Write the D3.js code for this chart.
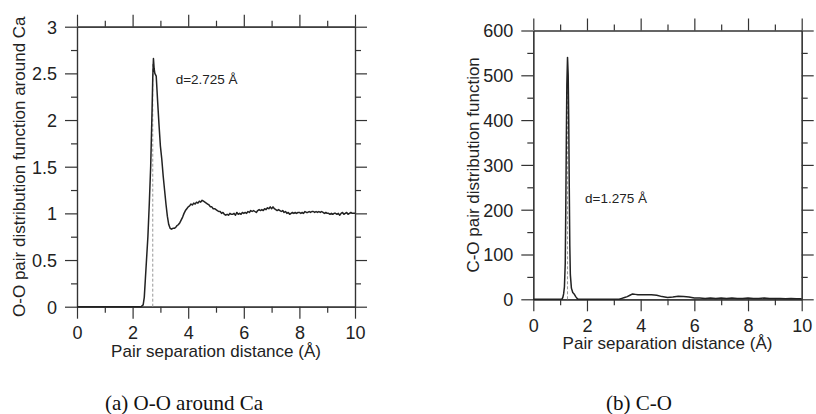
<!DOCTYPE html>
<html>
<head>
<meta charset="utf-8">
<script src="https://cdn.jsdelivr.net/npm/d3@7"></script>
<style>
  body { margin: 0; background: #fff; }
  svg { display: block; }
  .axis path, .axis line { stroke: #333; stroke-width: 1.2; }
  .axis text { font-family: "Liberation Sans", Arial, Helvetica, sans-serif; font-size: 18px; fill: #222; }
  .lbl { font-family: "Liberation Sans", Arial, Helvetica, sans-serif; fill: #222; }
  .cap { font-family: "Liberation Serif", "Times New Roman", serif; font-size: 21px; fill: #111; }
</style>
</head>
<body>
<div id="chart"></div>
<script>
// O-O pair distribution around Ca
var ooR = [0, 2.3, 2.38, 2.42, 2.46, 2.5, 2.55, 2.6, 2.65, 2.7, 2.725, 2.75, 2.775, 2.8, 2.85, 2.9, 2.95,
  3.0, 3.05, 3.1, 3.15, 3.2, 3.25, 3.3, 3.35, 3.4, 3.45, 3.5, 3.55, 3.6, 3.65, 3.7, 3.75, 3.8, 3.85, 3.9, 3.95,
  4.0, 4.05, 4.1, 4.15, 4.2, 4.25, 4.3, 4.35, 4.4, 4.45, 4.5, 4.55, 4.6, 4.65, 4.7, 4.75, 4.8, 4.85, 4.9, 4.95,
  5.0, 5.05, 5.1, 5.15, 5.2, 5.25, 5.3, 5.35, 5.4, 5.45, 5.5, 5.55, 5.6, 5.65, 5.7, 5.75, 5.8, 5.85, 5.9, 5.95,
  6.0, 6.05, 6.1, 6.15, 6.2, 6.25, 6.3, 6.35, 6.4, 6.45, 6.5, 6.55, 6.6, 6.65, 6.7, 6.75, 6.8, 6.85, 6.9, 6.95,
  7.0, 7.05, 7.1, 7.15, 7.2, 7.25, 7.3, 7.35, 7.4, 7.45, 7.5, 7.55, 7.6, 7.65, 7.7, 7.75, 7.8, 7.85, 7.9, 7.95,
  8.0, 8.05, 8.1, 8.15, 8.2, 8.25, 8.3, 8.35, 8.4, 8.45, 8.5, 8.55, 8.6, 8.65, 8.7, 8.75, 8.8, 8.85, 8.9, 8.95,
  9.0, 9.05, 9.1, 9.15, 9.2, 9.25, 9.3, 9.35, 9.4, 9.45, 9.5, 9.55, 9.6, 9.65, 9.7, 9.75, 9.8, 9.85, 9.9, 9.95, 10.0];
var ooG = [0, 0, 0.02, 0.1, 0.3, 0.5, 0.75, 1.1, 1.5, 2.1, 2.45, 2.66, 2.55, 2.5, 2.47, 2.2, 1.95,
  1.72, 1.58, 1.4, 1.25, 1.1, 0.97, 0.88, 0.84, 0.83, 0.84, 0.84, 0.85, 0.87, 0.88, 0.9, 0.93, 0.96, 1.0, 1.03, 1.05,
  1.07, 1.08, 1.10, 1.09, 1.11, 1.10, 1.12, 1.11, 1.13, 1.12, 1.14, 1.13, 1.12, 1.11, 1.10, 1.09, 1.07, 1.07, 1.05, 1.05,
  1.04, 1.03, 1.02, 1.02, 1.00, 1.01, 0.99, 0.98, 0.99, 0.98, 1.00, 0.99, 0.99, 1.00, 0.98, 1.01, 0.99, 1.00, 0.99, 1.01,
  1.00, 1.01, 1.00, 1.02, 1.01, 1.03, 1.02, 1.03, 1.02, 1.01, 1.03, 1.04, 1.03, 1.04, 1.03, 1.05, 1.04, 1.06, 1.05, 1.07,
  1.05, 1.07, 1.05, 1.04, 1.03, 1.04, 1.03, 1.02, 1.03, 1.01, 1.02, 1.00, 1.01, 0.99, 1.00, 1.01, 1.00, 1.01, 1.00, 1.01,
  1.01, 1.00, 1.01, 1.00, 1.02, 1.01, 1.01, 1.02, 1.01, 1.02, 1.02, 1.01, 1.02, 1.01, 1.02, 1.01, 1.02, 1.01, 1.00, 1.01,
  1.00, 1.00, 0.99, 1.00, 0.99, 1.00, 1.00, 0.99, 1.00, 0.98, 1.00, 1.01, 0.99, 1.00, 1.01, 0.99, 1.00, 1.01, 1.00, 1.00, 1.00];

// C-O pair distribution
var coR = [0, 1.06, 1.1, 1.13, 1.16, 1.19, 1.21, 1.23, 1.25, 1.275, 1.3, 1.32, 1.34, 1.36, 1.38, 1.42, 1.47, 1.52,
  1.58, 1.63, 1.68, 3.2, 3.3, 3.4, 3.5, 3.6, 3.7, 3.8, 3.9, 4.0, 4.2, 4.4, 4.6, 4.8, 5.0, 5.2, 5.4, 5.6, 5.8,
  6.0, 6.2, 6.4, 6.6, 6.8, 7.0, 7.2, 7.4, 7.6, 7.8, 8.0, 8.2, 8.4, 8.6, 8.8, 9.0, 9.2, 9.4, 9.6, 9.8, 10.0];
var coG = [0, 0, 4, 12, 28, 80, 200, 350, 480, 540, 500, 400, 250, 120, 55, 25, 15, 12,
  6, 2, 0, 0, 2, 4, 6, 9, 12, 11, 10, 10, 10, 10, 9, 6, 4, 5, 7, 6, 5,
  3, 3, 2, 3, 2, 3, 2, 3, 2, 2, 3, 2, 2, 3, 2, 2, 2, 1, 2, 1, 1];

var xMajor = [0, 2, 4, 6, 8, 10], xMinor = [1, 3, 5, 7, 9];
var ooYMajor = [0, 0.5, 1, 1.5, 2, 2.5, 3], ooYMinor = [0.25, 0.75, 1.25, 1.75, 2.25, 2.75];
var coYMajor = [0, 100, 200, 300, 400, 500, 600], coYMinor = [50, 150, 250, 350, 450, 550];

var svg = d3.select("#chart").append("svg")
  .attr("width", 816)
  .attr("height", 414);

function drawPanel(p) {
  var x = d3.scaleLinear().domain([0, 10]).range([p.left, p.right]);
  var y = d3.scaleLinear().domain(p.yDomain).range([p.bottom, p.top]);
  var g = svg.append("g");

  function addAxis(gen, tr, vals, size, labels) {
    var ax = gen.tickValues(vals).tickSizeInner(size).tickSizeOuter(0).tickPadding(p.pad);
    if (!labels) ax.tickFormat("");
    g.append("g").attr("class", "axis").attr("transform", tr).call(ax);
  }
  var fmt = function(d) { return d; };
  addAxis(d3.axisBottom(x).tickFormat(fmt), "translate(0," + p.bottom + ")", xMajor, 12, true);
  addAxis(d3.axisBottom(x), "translate(0," + p.bottom + ")", xMinor, 6, false);
  addAxis(d3.axisTop(x), "translate(0," + p.top + ")", xMajor, 12, false);
  addAxis(d3.axisTop(x), "translate(0," + p.top + ")", xMinor, 6, false);
  addAxis(d3.axisLeft(y).tickFormat(fmt), "translate(" + p.left + ",0)", p.yMajor, 12, true);
  addAxis(d3.axisLeft(y), "translate(" + p.left + ",0)", p.yMinor, 6, false);
  addAxis(d3.axisRight(y), "translate(" + p.right + ",0)", p.yMajor, 12, false);
  addAxis(d3.axisRight(y), "translate(" + p.right + ",0)", p.yMinor, 6, false);
  g.selectAll(".axis .tick text").attr("dy", null);
  g.selectAll(".axis .tick text").filter(function() { return this.parentNode.parentNode.getAttribute("transform").indexOf("translate(0,") === 0; })
    .attr("dy", "0.71em");
  g.selectAll(".axis .tick text").filter(function() { return this.parentNode.parentNode.getAttribute("transform").indexOf("translate(0,") !== 0; })
    .attr("dy", "0.35em");

  // peak marker
  g.append("line")
    .attr("x1", x(p.peakR)).attr("x2", x(p.peakR))
    .attr("y1", y(0)).attr("y2", y(p.peakG))
    .attr("stroke", "#999").attr("stroke-width", 1).attr("stroke-dasharray", "3,2");

  var line = d3.line()
    .x(function(d, i) { return x(p.r[i]); })
    .y(function(d) { return y(d); });
  g.append("path")
    .datum(p.gVals)
    .attr("fill", "none")
    .attr("stroke", "#222")
    .attr("stroke-width", 1.5)
    .attr("stroke-linejoin", "round")
    .attr("d", line);

  g.append("text").attr("class", "lbl")
    .attr("x", x(p.noteX)).attr("y", y(p.noteY))
    .style("font-size", "13.5px")
    .text(p.note);

  g.append("text").attr("class", "lbl")
    .attr("x", (p.left + p.right) / 2).attr("y", p.bottom + 50)
    .attr("text-anchor", "middle")
    .style("font-size", "17px")
    .text("Pair separation distance (Å)");

  g.append("text").attr("class", "lbl")
    .attr("transform", "translate(" + p.yLabelX + "," + ((p.top + p.bottom) / 2) + ") rotate(-90)")
    .attr("text-anchor", "middle")
    .style("font-size", "17px")
    .text(p.yLabel);

  g.append("text").attr("class", "cap")
    .attr("x", p.capX).attr("y", 410)
    .attr("text-anchor", "middle")
    .text(p.caption);
}

drawPanel({
  left: 77, right: 355, top: 26.7, bottom: 306.7, pad: 8,
  yDomain: [0, 3], yMajor: ooYMajor, yMinor: ooYMinor,
  r: ooR, gVals: ooG, peakR: 2.725, peakG: 2.6,
  note: "d=2.725 Å", noteX: 3.55, noteY: 2.39,
  yLabel: "O-O pair distribution function around Ca", yLabelX: 25,
  caption: "(a) O-O around Ca", capX: 184
});

drawPanel({
  left: 533.3, right: 801.7, top: 30.5, bottom: 299.3, pad: 8,
  yDomain: [0, 600], yMajor: coYMajor, yMinor: coYMinor,
  r: coR, gVals: coG, peakR: 1.275, peakG: 530,
  note: "d=1.275 Å", noteX: 1.93, noteY: 215,
  yLabel: "C-O pair distribution function", yLabelX: 479,
  caption: "(b) C-O", capX: 639
});
</script>
</body>
</html>
